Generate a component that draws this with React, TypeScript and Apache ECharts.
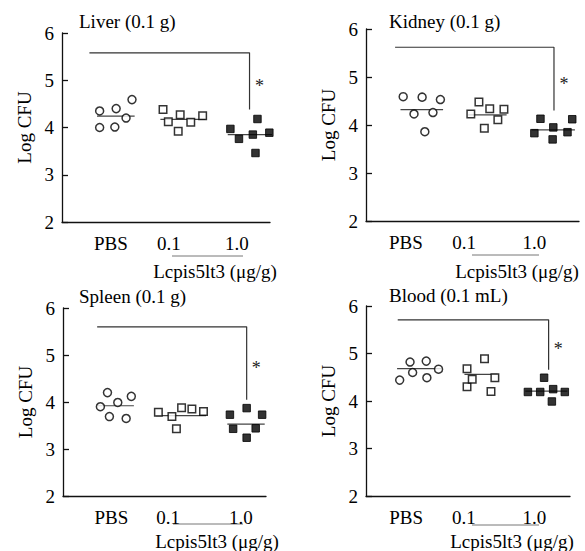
import React, { useEffect, useRef } from "react";
import * as echarts from "echarts";

const groups = ["PBS", "0.1", "1.0"];
const panelTitles = ["Liver (0.1 g)", "Kidney (0.1 g)", "Spleen (0.1 g)", "Blood (0.1 mL)"];
const yTicks = [2, 3, 4, 5, 6];
const doseLabel = "Lcpis5lt3 (μg/g)";

// values (Log CFU) per group: PBS, 0.1, 1.0
const liverValues = [
  [4.0, 4.35, 4.01, 4.4, 4.2, 4.59],
  [4.38, 4.12, 3.92, 4.27, 4.11, 4.25],
  [3.97, 3.76, 3.85, 4.18, 3.46, 3.89],
];
const liverJitter = [
  [-0.23, -0.23, 0, 0.02, 0.17, 0.26],
  [-0.27, -0.19, -0.04, -0.01, 0.15, 0.33],
  [-0.25, -0.12, 0.09, 0.16, 0.13, 0.34],
];
const liverMeans = [4.24, 4.17, 3.85];

const kidneyValues = [
  [4.59, 4.23, 4.58, 3.86, 4.26, 4.53],
  [4.23, 4.48, 3.93, 4.34, 4.11, 4.33],
  [3.83, 4.13, 3.7, 3.95, 3.85, 4.12],
];
const kidneyJitter = [
  [-0.25, -0.09, 0.03, 0.07, 0.19, 0.3],
  [-0.25, -0.13, -0.05, 0.03, 0.15, 0.24],
  [-0.31, -0.22, -0.04, -0.03, 0.18, 0.25],
];
const kidneyMeans = [4.32, 4.21, 3.9];

const spleenValues = [
  [3.9, 4.2, 3.69, 3.99, 3.65, 4.12],
  [3.78, 3.69, 3.43, 3.88, 3.85, 3.8],
  [3.73, 3.43, 3.87, 3.24, 3.44, 3.73],
];
const spleenJitter = [
  [-0.22, -0.11, -0.08, 0.05, 0.18, 0.26],
  [-0.32, -0.11, -0.04, 0.04, 0.2, 0.38],
  [-0.21, -0.16, 0.05, 0.05, 0.19, 0.29],
];
const spleenMeans = [3.92, 3.71, 3.53];

const bloodValues = [
  [4.44, 4.82, 4.6, 4.84, 4.49, 4.67],
  [4.68, 4.3, 4.46, 4.89, 4.2, 4.49],
  [4.19, 4.19, 4.49, 4.25, 3.99, 4.19],
];
const bloodJitter = [
  [-0.28, -0.12, -0.08, 0.13, 0.14, 0.32],
  [-0.24, -0.24, -0.16, 0.03, 0.13, 0.19],
  [-0.3, -0.11, -0.05, 0.09, 0.07, 0.27],
];
const bloodMeans = [4.68, 4.56, 4.21];

// significance brackets: [xStart, xEnd, yTop, yBottom]
const liverSig = [0.615, 3.04, 5.58, 4.38];
const kidneySig = [0.63, 2.98, 5.62, 4.3];
const spleenSig = [0.73, 3.05, 5.6, 4.05];
const bloodSig = [0.69, 3.02, 5.71, 4.66];

// x-axis label positions (axis units)
const liverLabelPos = [0.94, 1.82, 2.85];
const kidneyLabelPos = [0.79, 1.65, 2.69];
const spleenLabelPos = [0.95, 1.83, 2.96];
const bloodLabelPos = [0.82, 1.71, 2.8];

const panelValues = [liverValues, kidneyValues, spleenValues, bloodValues];
const panelJitter = [liverJitter, kidneyJitter, spleenJitter, bloodJitter];
const panelMeans = [liverMeans, kidneyMeans, spleenMeans, bloodMeans];
const panelSig = [liverSig, kidneySig, spleenSig, bloodSig];
const panelLabelPos = [liverLabelPos, kidneyLabelPos, spleenLabelPos, bloodLabelPos];

const FONT = "Liberation Serif";
const INK = "#000";

const grids = [
  { left: 62, top: 33, width: 208, height: 189 },
  { left: 366, top: 29, width: 213, height: 192 },
  { left: 63, top: 308, width: 203, height: 188 },
  { left: 366, top: 306, width: 204, height: 190 },
];
const titlePos = [
  { left: 79, top: 12 },
  { left: 389, top: 12 },
  { left: 79, top: 287 },
  { left: 389, top: 286 },
];
const subLines = [
  { x1: 172, x2: 243, y: 256, tx: 215, ty: 271 },
  { x1: 472, x2: 539, y: 255, tx: 517, ty: 271 },
  { x1: 173, x2: 243, y: 524, tx: 217, ty: 541 },
  { x1: 472, x2: 539, y: 525, tx: 512, ty: 541 },
];

function buildOption() {
  const xAxis: any[] = [];
  const yAxis: any[] = [];
  const series: any[] = [];
  const graphic: any[] = [];
  grids.forEach((_, p) => {
    const labelPos = panelLabelPos[p];
    xAxis.push({
      type: "value",
      gridIndex: p,
      min: 0.2,
      max: 3.35,
      splitLine: { show: false },
      axisTick: { show: false },
      axisLine: { show: true, onZero: false, lineStyle: { color: "#111", width: 1.3 } },
      axisLabel: {
        customValues: labelPos,
        formatter: (v: number) => {
          const i = labelPos.findIndex((q) => Math.abs(q - v) < 1e-6);
          return i >= 0 ? groups[i] : "";
        },
        fontSize: 19,
        fontFamily: FONT,
        color: INK,
        margin: 12,
      },
    });
    yAxis.push({
      type: "value",
      gridIndex: p,
      min: yTicks[0],
      max: yTicks[yTicks.length - 1],
      interval: 1,
      splitLine: { show: false },
      axisLine: { show: true, lineStyle: { color: "#111", width: 1.3 } },
      axisTick: { show: true, inside: true, length: 6, lineStyle: { color: "#111", width: 1.3 } },
      axisLabel: { fontSize: 19, fontFamily: FONT, color: INK, margin: 8 },
      name: "Log CFU",
      nameLocation: "middle",
      nameGap: 28,
      nameTextStyle: { fontSize: 19, fontFamily: FONT, color: INK },
    });

    const vals = panelValues[p];
    const jit = panelJitter[p];
    vals.forEach((g, gi) => {
      const filled = gi === 2;
      series.push({
        type: "scatter",
        xAxisIndex: p,
        yAxisIndex: p,
        symbol: gi === 0 ? "circle" : "rect",
        symbolSize: gi === 0 ? 8 : 7.5,
        z: 5,
        itemStyle: filled
          ? { color: INK, borderColor: INK, borderWidth: 1 }
          : { color: "#fff", borderColor: INK, borderWidth: 1.5 },
        data: g.map((v, k) => [gi + 1 + jit[gi][k], v]),
      });
      const lo = Math.min(...jit[gi]) - 0.04;
      const hi = Math.max(...jit[gi]) + 0.04;
      series.push({
        type: "line",
        xAxisIndex: p,
        yAxisIndex: p,
        symbol: "none",
        z: 3,
        lineStyle: { color: "#444", width: 1.2 },
        data: [
          [gi + 1 + lo, panelMeans[p][gi]],
          [gi + 1 + hi, panelMeans[p][gi]],
        ],
      });
    });

    const [xs, xe, yt, yb] = panelSig[p];
    series.push({
      type: "line",
      xAxisIndex: p,
      yAxisIndex: p,
      symbol: "none",
      z: 2,
      lineStyle: { color: "#333", width: 1.2 },
      data: [
        [xs, yt],
        [xe, yt],
        [xe, yb],
      ],
    });
  });

  subLines.forEach((s) => {
    graphic.push({
      type: "line",
      shape: { x1: s.x1, y1: s.y, x2: s.x2, y2: s.y },
      style: { stroke: "#777", lineWidth: 1 },
    });
    graphic.push({
      type: "text",
      x: s.tx,
      y: s.ty,
      style: {
        text: doseLabel,
        fontSize: 19,
        fontFamily: FONT,
        fill: INK,
        textAlign: "center",
        textVerticalAlign: "middle",
      },
    });
  });

  return {
    animation: false,
    backgroundColor: "#fff",
    textStyle: { fontFamily: FONT },
    title: panelTitles.map((t, i) => ({
      text: t,
      left: titlePos[i].left,
      top: titlePos[i].top,
      padding: 0,
      textStyle: { fontSize: 19, fontWeight: "normal", fontFamily: FONT, color: INK },
    })),
    grid: grids,
    xAxis,
    yAxis,
    series,
    graphic,
  };
}

export default function App() {
  const ref = useRef<HTMLDivElement>(null);
  useEffect(() => {
    const chart = echarts.init(ref.current!, undefined, { renderer: "svg" });
    const opt = buildOption() as any;
    chart.setOption(opt);
    // place asterisks next to each bracket's vertical leg, via the axes' own scales
    const stars: any[] = [];
    panelSig.forEach(([, xe, yt, yb], p) => {
      const pt = chart.convertToPixel({ gridIndex: p } as any, [xe + 0.15, (yt + yb) / 2 - 0.1]) as number[];
      stars.push({
        type: "text",
        x: pt[0],
        y: pt[1],
        style: {
          text: "*",
          fontSize: 18,
          fontFamily: FONT,
          fill: "#222",
          textAlign: "center",
          textVerticalAlign: "middle",
        },
      });
    });
    chart.setOption({ graphic: [...opt.graphic, ...stars] } as any);
    return () => chart.dispose();
  }, []);
  return (
    <div
      ref={ref}
      style={{ position: "absolute", left: 0, top: 0, width: 585, height: 551, background: "#fff" }}
    />
  );
}
